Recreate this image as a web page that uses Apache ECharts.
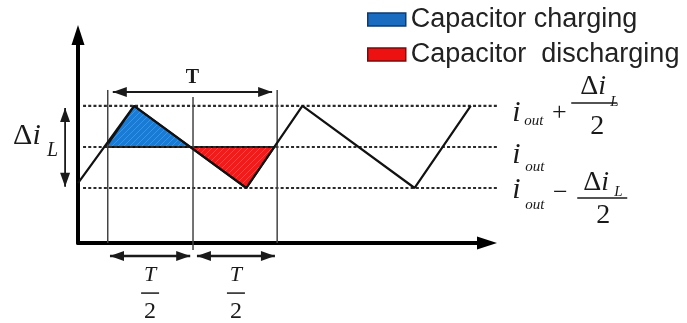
<!DOCTYPE html>
<html><head><meta charset="utf-8">
<script src="https://cdn.jsdelivr.net/npm/echarts@6/dist/echarts.min.js"></script>
<style>html,body{margin:0;padding:0;background:#fff}#c{width:687px;height:323px}</style>
</head><body><div id="c"></div>
<script>
// ---- data ----
const waveT = [0, 1, 3, 4, 6, 7];
const waveI = [-0.88, 1, -1, 1, -1, 1];
const chargeT = [0.5, 1, 2];
const chargeI = [0, 1, 0];
const dischargeT = [2, 3, 3.5];
const dischargeI = [0, -1, 0];
const levels = [1, 0, -1];
const levelSpan = [0.09, 7.47];
const boundaryT = [0.53, 2.05, 3.55];
const boundaryTop = [1.39, 1.22, 1.39];
const boundaryBottom = [-2.34, -2.51, -2.34];
const periodSpan = [0.62, 3.46];
const periodLevel = 1.34;
const halfSpans = [[0.57, 2.0], [2.12, 3.51]];
const halfLevel = -2.66;
const rippleT = -0.23;
const rippleSpan = [-0.97, 0.95];
const labelT = 7.74;
const seriesNames = ['Capacitor charging', 'Capacitor  discharging'];

const SERIF = '"Liberation Serif","Times New Roman",serif';
const SANS = '"Liberation Sans",Arial,sans-serif';
const INK = '#1a1a1a';

function hatch(base, stripe) {
  const c = document.createElement('canvas');
  c.width = 6; c.height = 6;
  const g = c.getContext('2d');
  g.fillStyle = base; g.fillRect(0, 0, 6, 6);
  g.strokeStyle = stripe; g.lineWidth = 1;
  g.beginPath();
  g.moveTo(0, 6); g.lineTo(6, 0);
  g.moveTo(-3, 3); g.lineTo(3, -3);
  g.moveTo(3, 9); g.lineTo(9, 3);
  g.stroke();
  return { image: c, repeat: 'repeat' };
}
const blueFill = hatch('#1a7bd4', '#3c93e2');
const redFill = hatch('#f01c1c', '#ff4646');

function triangleSeries(name, ts, vs, fill, legendColor) {
  return {
    type: 'custom', name: name, coordinateSystem: 'cartesian2d', z: 2,
    data: ts.map((t, i) => [t, vs[i]]),
    itemStyle: { color: legendColor },
    renderItem: function (params, api) {
      if (params.dataIndex !== 0) return;
      const pts = ts.map((t, i) => api.coord([t, vs[i]]));
      return { type: 'polygon', shape: { points: pts },
        style: { fill: fill, stroke: '#111', lineWidth: 2, lineJoin: 'round' } };
    }
  };
}

function head(tip, dir, len, wid) {
  const bx = tip[0] - dir[0] * len, by = tip[1] - dir[1] * len;
  const nx = -dir[1] * wid / 2, ny = dir[0] * wid / 2;
  return { type: 'polygon', shape: { points: [tip, [bx + nx, by + ny], [bx - nx, by - ny]] }, style: { fill: INK } };
}
function dblArrow(a, b, lw, len, wid) {
  const dx = b[0] - a[0], dy = b[1] - a[1], L = Math.hypot(dx, dy);
  const u = [dx / L, dy / L];
  return [
    { type: 'line', shape: { x1: a[0], y1: a[1], x2: b[0], y2: b[1] }, style: { stroke: INK, lineWidth: lw } },
    head(b, u, len, wid), head(a, [-u[0], -u[1]], len, wid)
  ];
}
function txt(x, y, text, size, o) {
  o = o || {};
  return { type: 'text', x: x, y: y, style: {
    text: text, fontSize: size, fontFamily: o.family || SERIF, fontStyle: o.style || 'normal',
    fontWeight: o.weight || 'normal', fill: INK, align: o.align || 'left', verticalAlign: 'middle', rich: o.rich } };
}
function hbar(x1, x2, y) {
  return { type: 'line', shape: { x1: x1, y1: y, x2: x2, y2: y }, style: { stroke: INK, lineWidth: 1.5 } };
}
function deltaI(x, y, size) {
  const r = {
    d: { fontFamily: SERIF, fontSize: size, fill: INK },
    i: { fontFamily: SERIF, fontSize: size, fontStyle: 'italic', fill: INK }
  };
  return txt(x, y, '{d|Δ}{i|i}', size, { rich: r });
}

function annotations(params, api) {
  if (params.dataIndex !== 0) return;
  const P = (t, v) => api.coord([t, v]);
  const ch = [];
  levels.forEach(v => {
    const a = P(levelSpan[0], v), b = P(levelSpan[1], v);
    ch.push({ type: 'line', shape: { x1: a[0], y1: a[1], x2: b[0], y2: b[1] },
      style: { stroke: '#2a2a2a', lineWidth: 2.2, lineDash: [3, 2.2] } });
  });
  boundaryT.forEach((t, i) => {
    const a = P(t, boundaryTop[i]), b = P(t, boundaryBottom[i]);
    ch.push({ type: 'line', shape: { x1: a[0], y1: a[1], x2: b[0], y2: b[1] },
      style: { stroke: '#444', lineWidth: 1.5 } });
  });
  const pa = P(periodSpan[0], periodLevel), pb = P(periodSpan[1], periodLevel);
  ch.push(...dblArrow(pa, pb, 2, 14, 10));
  ch.push(txt((pa[0] + pb[0]) / 2, pa[1] - 14, 'T', 20, { align: 'center', weight: 'bold' }));
  halfSpans.forEach(s => {
    const a = P(s[0], halfLevel), b = P(s[1], halfLevel);
    ch.push(...dblArrow(a, b, 2.5, 14, 10));
    const cx = (a[0] + b[0]) / 2;
    ch.push(txt(cx, a[1] + 19, 'T', 22, { align: 'center', style: 'italic' }));
    ch.push(hbar(cx - 9, cx + 9, a[1] + 37));
    ch.push(txt(cx, a[1] + 56, '2', 24, { align: 'center' }));
  });
  const ra = P(rippleT, rippleSpan[1]), rb = P(rippleT, rippleSpan[0]);
  ch.push(...dblArrow(ra, rb, 1.8, 14, 10));
  const rc = P(rippleT, 0);
  ch.push(deltaI(rc[0] - 52, rc[1] - 11, 30));
  ch.push(txt(rc[0] - 18, rc[1] + 4, 'L', 20, { style: 'italic' }));
  const top = P(labelT, levels[0]);
  ch.push(txt(top[0], top[1] + 7, 'i', 30, { style: 'italic' }));
  ch.push(txt(top[0] + 12, top[1] + 15, 'out', 15, { style: 'italic' }));
  ch.push(txt(top[0] + 47, top[1] + 7, '+', 26, { align: 'center' }));
  ch.push(deltaI(top[0] + 68, top[1] - 19, 28));
  ch.push(txt(top[0] + 98, top[1] - 4, 'L', 15, { style: 'italic' }));
  ch.push(hbar(top[0] + 59, top[0] + 105, top[1] - 3));
  ch.push(txt(top[0] + 85, top[1] + 21, '2', 28, { align: 'center' }));
  const mid = P(labelT, levels[1]);
  ch.push(txt(mid[0], mid[1] + 8, 'i', 30, { style: 'italic' }));
  ch.push(txt(mid[0] + 13, mid[1] + 20, 'out', 15, { style: 'italic' }));
  const bot = P(labelT, levels[2]);
  ch.push(txt(bot[0], bot[1] + 2, 'i', 30, { style: 'italic' }));
  ch.push(txt(bot[0] + 13, bot[1] + 17, 'out', 15, { style: 'italic' }));
  ch.push(txt(bot[0] + 48, bot[1] + 5, '−', 26, { align: 'center' }));
  ch.push(deltaI(bot[0] + 71, bot[1] - 5, 28));
  ch.push(txt(bot[0] + 102, bot[1] + 4, 'L', 15, { style: 'italic' }));
  ch.push(hbar(bot[0] + 65, bot[0] + 115, bot[1] + 10));
  ch.push(txt(bot[0] + 91, bot[1] + 28, '2', 28, { align: 'center' }));
  return { type: 'group', children: ch };
}

const chart = echarts.init(document.getElementById('c'), null, { renderer: 'canvas' });
const axisCommon = {
  type: 'value',
  axisTick: { show: false }, axisLabel: { show: false }, splitLine: { show: false },
  axisLine: { show: true, onZero: false, lineStyle: { color: '#000', width: 4 },
    symbol: ['none', 'triangle'], symbolSize: [13, 20] }
};
chart.setOption({
  animation: false,
  backgroundColor: '#fff',
  grid: { left: 78, right: 200, top: 35, bottom: 80 },
  xAxis: Object.assign({}, axisCommon, { min: 0, max: 7.29 }),
  yAxis: Object.assign({}, axisCommon, { min: -2.341, max: 2.73 }),
  legend: {
    orient: 'vertical', left: 367, top: 6, padding: 0, itemGap: 8,
    itemWidth: 38, itemHeight: 13, icon: 'rect',
    textStyle: { fontSize: 27, fontFamily: SANS, color: '#222' },
    data: [
      { name: seriesNames[0], itemStyle: { color: '#1a6cc0', borderColor: '#0d3a70', borderWidth: 1.5 } },
      { name: seriesNames[1], itemStyle: { color: '#ee1111', borderColor: '#7a0a0a', borderWidth: 1.5 } }
    ],
    selectedMode: false
  },
  series: [
    triangleSeries(seriesNames[0], chargeT, chargeI, blueFill, '#1a6cc0'),
    triangleSeries(seriesNames[1], dischargeT, dischargeI, redFill, '#ee1111'),
    { type: 'custom', name: 'annotations', coordinateSystem: 'cartesian2d', z: 3, clip: false,
      data: [[0, 0]], renderItem: annotations, silent: true },
    { type: 'line', name: 'iL', z: 4, symbol: 'none', silent: true,
      data: waveT.map((t, i) => [t, waveI[i]]),
      lineStyle: { color: '#111', width: 2.2 } }
  ]
});
</script>
</body></html>
